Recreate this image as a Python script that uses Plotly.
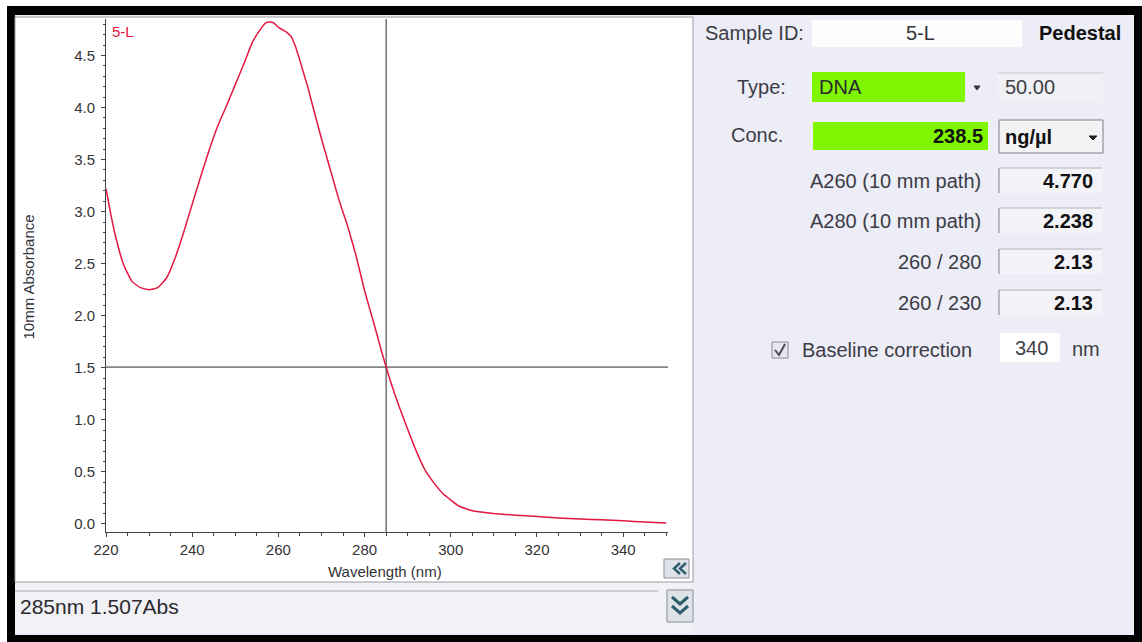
import plotly.graph_objects as go

# ---------------- data ----------------
wavelength_nm = [220, 221, 222, 224, 226, 228, 230, 232, 234, 236,
                 238, 240, 242, 244, 246, 248, 250, 252, 254, 256,
                 257, 258, 259, 260, 262, 263, 264, 265, 266, 267,
                 268, 270, 272, 274, 276, 278, 280, 282, 284, 285,
                 286, 288, 290, 292, 294, 296, 298, 300, 302, 304,
                 306, 308, 310, 315, 320, 325, 330, 335, 340, 345, 350]
absorbance = [3.22, 3.00, 2.80, 2.50, 2.33, 2.27, 2.25, 2.27, 2.36, 2.55,
              2.80, 3.07, 3.34, 3.60, 3.83, 4.02, 4.22, 4.42, 4.63, 4.76,
              4.81, 4.82, 4.81, 4.77, 4.72, 4.68, 4.58, 4.45, 4.31, 4.17,
              4.01, 3.70, 3.41, 3.12, 2.87, 2.58, 2.24, 1.95, 1.65, 1.507,
              1.37, 1.13, 0.91, 0.70, 0.52, 0.40, 0.30, 0.23, 0.17, 0.14,
              0.12, 0.11, 0.10, 0.085, 0.072, 0.058, 0.048, 0.04, 0.03, 0.018, 0.01]

sample_name = "5-L"
cursor_nm = 285
cursor_abs = 1.507
status_text = "285nm 1.507Abs"

sample_type = "DNA"
type_factor = "50.00"
concentration = "238.5"
conc_unit = "ng/µl"
result_labels = ["A260 (10 mm path)", "A280 (10 mm path)", "260 / 280", "260 / 230"]
result_values = ["4.770", "2.238", "2.13", "2.13"]
baseline_nm = "340"

x_title = "Wavelength (nm)"
y_title = "10mm Absorbance"

# ---------------- geometry helpers ----------------
W, H = 1142, 642
L, R, T, B = 106, 668, 19, 532
FONT = "Liberation Sans, Arial, sans-serif"
RED = "#e3173f"


def px(x):
    return (x - L) / (R - L)


def py(y):
    return (B - y) / (B - T)


shapes = []
annotations = []


def rect(x0, y0, x1, y1, fill, line=None, lw=1, layer="below"):
    shapes.append(dict(type="rect", xref="paper", yref="paper",
                       x0=px(x0), x1=px(x1), y0=py(y1), y1=py(y0),
                       fillcolor=fill,
                       line=dict(color=line if line else "rgba(0,0,0,0)", width=lw if line else 0),
                       layer=layer))


def hline(x0, x1, y, color, lw=1, layer="below"):
    shapes.append(dict(type="line", xref="paper", yref="paper",
                       x0=px(x0), x1=px(x1), y0=py(y), y1=py(y),
                       line=dict(color=color, width=lw), layer=layer))


def vline(x, y0, y1, color, lw=1, layer="below"):
    shapes.append(dict(type="line", xref="paper", yref="paper",
                       x0=px(x), x1=px(x), y0=py(y0), y1=py(y1),
                       line=dict(color=color, width=lw), layer=layer))


def path(points, color, lw=2, fill=None, layer="above"):
    d = "M " + " L ".join(f"{px(a)},{py(b)}" for a, b in points)
    if fill:
        d += " Z"
    shapes.append(dict(type="path", xref="paper", yref="paper", path=d,
                       line=dict(color=color, width=lw),
                       fillcolor=fill if fill else "rgba(0,0,0,0)", layer=layer))


def text(x, y, s, size=20, color="#3c3c46", anchor="left", bold=False, angle=0):
    annotations.append(dict(xref="paper", yref="paper", x=px(x), y=py(y),
                            text=f"<b>{s}</b>" if bold else s, showarrow=False,
                            xanchor=anchor, yanchor="middle", textangle=angle,
                            font=dict(family=FONT, size=size, color=color)))


# ---------------- window frame & panels ----------------
rect(7, 6, 1142, 642, "#000000")                 # black frame
rect(15, 15, 1134, 635, "#ecedf6")               # panel background (lavender)
rect(15, 17, 693, 582, "#ffffff", "#9c9ca4", 1)  # chart panel
rect(15, 583, 692, 633, "#f1f1f6")               # status bar
hline(15, 658, 591, "#a6a6ae", 1)
text(18, 606, status_text, size=21, color="#2a2a30")

# "<<" button
rect(664, 559, 689, 578, "#dfe2e8", "#8c8f96", 1)
path([(680, 563), (674, 568.5), (680, 574)], "#2f5e6c", 2.5)
path([(686, 563), (680, 568.5), (686, 574)], "#2f5e6c", 2.5)
# double-chevron down button
rect(667, 590, 693, 622, "#dfe2e8", "#8c8f96", 1)
path([(672, 597), (680, 604), (688, 597)], "#2f5e6c", 3)
path([(672, 606), (680, 613), (688, 606)], "#2f5e6c", 3)

# ---------------- right panel ----------------
text(703, 33, "Sample ID:", size=20)
rect(812, 20, 1022, 47, "#fdfdfd")
text(920, 33, sample_name, size=20, anchor="center", color="#333338")
text(1123, 33, "Pedestal", size=20, anchor="right", bold=True, color="#111111")

text(788, 87, "Type:", size=20, anchor="right")
rect(812, 72, 965, 102, "#7ff500")
text(817, 87, sample_type, size=20, color="#2a2a30")
path([(974, 86), (980, 86), (977, 90)], "#333333", 1, fill="#333333")
rect(998, 73, 1103, 102, "#f0f0f5")
hline(998, 1103, 73, "#c8c8d0", 1)
text(1003, 87, type_factor, size=20, color="#404048")

text(785, 135, "Conc.", size=20, anchor="right")
rect(813, 122, 988, 150, "#7ff500")
text(985, 136, concentration, size=20, anchor="right", bold=True, color="#111111")
rect(999, 120, 1103, 153, "#f3f3f5", "#7d7d85", 1)
text(1003, 137, conc_unit, size=20, bold=True, color="#111111")
path([(1089, 136), (1097, 136), (1093, 140)], "#222222", 1, fill="#222222")

row_y = [181, 221, 262, 303]
for lab, val, yc in zip(result_labels, result_values, row_y):
    text(983, yc, lab, size=20, anchor="right")
    rect(999, yc - 13, 1102, yc + 12, "#f3f3f8")
    hline(999, 1102, yc - 13, "#b4b4bc", 1)
    vline(999, yc - 13, yc + 12, "#80808a", 1)
    text(1095, yc, val, size=20, anchor="right", bold=True, color="#111111")

# baseline correction
rect(772, 342, 788, 358, "#e6e7ee", "#8a8a94", 1)
path([(775, 350), (779, 355), (785, 344)], "#4a4a55", 2)
text(800, 350, "Baseline correction", size=20)
rect(1000, 333, 1060, 362, "#ffffff")
text(1031, 348, baseline_nm, size=20, anchor="center", color="#404048")
text(1070, 349, "nm", size=20, color="#404048")

# ---------------- chart texts ----------------
text(110, 31, sample_name, size=15, color=RED)
text(385, 571, x_title, size=15, anchor="center", color="#333338")
text(27.5, 277, y_title, size=15, anchor="center", color="#333338", angle=-90)

# crosshair (data coordinates)
shapes.append(dict(type="line", xref="x", yref="paper", x0=cursor_nm, x1=cursor_nm,
                   y0=0, y1=1, line=dict(color="#2a2a2a", width=1), layer="below"))
shapes.append(dict(type="line", xref="paper", yref="y", x0=0, x1=1,
                   y0=cursor_abs, y1=cursor_abs, line=dict(color="#2a2a2a", width=1), layer="below"))

fig = go.Figure()
fig.add_trace(go.Scatter(x=wavelength_nm, y=absorbance, mode="lines",
                         line=dict(color=RED, width=1.5, shape="spline", smoothing=0.4),
                         hoverinfo="x+y", showlegend=False))

fig.update_layout(
    width=W, height=H, autosize=False,
    margin=dict(l=L, r=W - R, t=T, b=H - B, pad=0),
    paper_bgcolor="#ffffff", plot_bgcolor="rgba(0,0,0,0)",
    shapes=shapes, annotations=annotations, showlegend=False,
    font=dict(family=FONT, size=15, color="#333338"),
    xaxis=dict(range=[220, 350.4], dtick=20, tick0=220, showgrid=False, zeroline=False,
               showline=True, linecolor="#444448", linewidth=1,
               ticks="outside", ticklen=4, tickcolor="#444448",
               minor=dict(dtick=5, ticks="outside", ticklen=3, tickcolor="#444448"),
               tickfont=dict(family=FONT, size=15, color="#333338")),
    yaxis=dict(range=[-0.077, 4.85], dtick=0.5, tick0=0, tickformat=".1f",
               showgrid=False, zeroline=False,
               showline=True, linecolor="#444448", linewidth=1,
               ticks="outside", ticklen=4, tickcolor="#444448", ticklabelstandoff=3,
               minor=dict(dtick=0.1, ticks="outside", ticklen=2, tickcolor="#444448"),
               tickfont=dict(family=FONT, size=15, color="#333338")),
)

fig.write_html("out.html",
               config={"displayModeBar": False},
               post_script="document.body.style.margin='0';document.body.style.padding='0';"
                           "document.body.style.overflow='hidden';")
